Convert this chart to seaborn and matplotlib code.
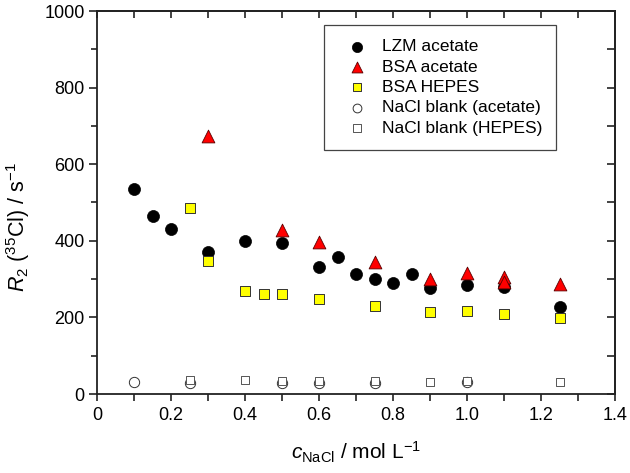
import matplotlib
matplotlib.use("Agg")
import matplotlib.pyplot as plt
import seaborn as sns
import numpy as np
from matplotlib.ticker import MultipleLocator, FuncFormatter

# ---- data ----
lzm_x = [0.1, 0.15, 0.2, 0.3, 0.4, 0.5, 0.6, 0.65, 0.7, 0.75, 0.8, 0.85, 0.9, 1.0, 1.1, 1.25]
lzm_y = [534, 466, 430, 370, 399, 395, 331, 358, 314, 301, 290, 314, 277, 285, 279, 228]

bsa_ac_x = [0.3, 0.5, 0.6, 0.75, 0.9, 1.0, 1.1, 1.1, 1.25]
bsa_ac_y = [674, 428, 396, 344, 300, 315, 305, 293, 286]

bsa_hep_x = [0.25, 0.3, 0.4, 0.45, 0.5, 0.6, 0.75, 0.9, 1.0, 1.1, 1.25]
bsa_hep_y = [485, 348, 269, 260, 262, 248, 231, 213, 216, 210, 199]

blank_ac_x = [0.1, 0.25, 0.5, 0.6, 0.75, 1.0]
blank_ac_y = [31, 29, 29, 30, 30, 31]

blank_hep_x = [0.25, 0.4, 0.5, 0.6, 0.75, 0.9, 1.0, 1.25]
blank_hep_y = [36, 36, 35, 33, 34, 32, 33, 32]

labels = ["LZM acetate", "BSA acetate", "BSA HEPES",
          "NaCl blank (acetate)", "NaCl blank (HEPES)"]

sns.set_theme(style="white")
plt.rcParams["font.family"] = ["Liberation Sans", "DejaVu Sans"]
plt.rcParams["mathtext.fontset"] = "custom"
plt.rcParams["mathtext.rm"] = "Liberation Sans"
plt.rcParams["mathtext.it"] = "Liberation Sans:italic"
for k in ["text.color", "axes.labelcolor", "xtick.color", "ytick.color"]:
    plt.rcParams[k] = "black"

fig = plt.figure(figsize=(6.3, 4.73), dpi=100)
ax = fig.add_axes([97/630, 1-394/473, (615-97)/630, (394-11)/473])

sns.scatterplot(x=lzm_x, y=lzm_y, ax=ax, marker="o", s=75, color="black",
                edgecolor="black", linewidth=0.5, label=labels[0], zorder=3)
sns.scatterplot(x=bsa_ac_x, y=bsa_ac_y, ax=ax, marker="^", s=85, color="#ff0000",
                edgecolor="#5a0000", linewidth=0.6, label=labels[1], zorder=4)
sns.scatterplot(x=bsa_hep_x, y=bsa_hep_y, ax=ax, marker="s", s=48, color="#ffff00",
                edgecolor="#333333", linewidth=0.7, label=labels[2], zorder=5)
sns.scatterplot(x=blank_ac_x, y=blank_ac_y, ax=ax, marker="o", s=55, color="white",
                edgecolor="#333333", linewidth=0.7, label=labels[3], zorder=5)
sns.scatterplot(x=blank_hep_x, y=blank_hep_y, ax=ax, marker="s", s=40, color="white",
                edgecolor="#555555", linewidth=0.7, label=labels[4], zorder=6)

ax.set_xlim(0, 1.4)
ax.set_ylim(0, 1000)

for sp in ax.spines.values():
    sp.set_linewidth(1.3)
    sp.set_color("#222222")

ax.xaxis.set_major_locator(MultipleLocator(0.2))
ax.xaxis.set_minor_locator(MultipleLocator(0.1))
ax.yaxis.set_major_locator(MultipleLocator(200))
ax.yaxis.set_minor_locator(MultipleLocator(100))
ax.xaxis.set_major_formatter(FuncFormatter(lambda v, p: "0" if abs(v) < 1e-9 else f"{v:.1f}"))
ax.tick_params(axis="x", which="both", direction="out", bottom=True, length=5, width=1.2,
               labelsize=13, color="#222222", pad=4)
ax.tick_params(axis="y", which="major", direction="out", left=True, length=6, width=1.2,
               labelsize=13, color="#222222", pad=3)
ax.tick_params(axis="y", which="minor", direction="out", left=True, length=4, width=1.2,
               color="#222222")

top = ax.secondary_xaxis("top")
top.xaxis.set_major_locator(MultipleLocator(0.1))
top.tick_params(direction="in", length=5, width=1.2, labeltop=False, color="#222222")
top.spines["top"].set_linewidth(1.3)
right = ax.secondary_yaxis("right")
right.yaxis.set_major_locator(MultipleLocator(100))
right.tick_params(direction="in", length=6, width=1.2, labelright=False, color="#222222")
right.spines["right"].set_linewidth(1.3)

ax.set_xlabel(r"$\mathit{c}_{\mathrm{NaCl}}$ / mol L$^{-1}$", fontsize=15, labelpad=11.5)
ax.set_ylabel(r"$\mathit{R}_2$ ($^{35}$Cl) / s$^{-1}$", fontsize=15.5, labelpad=9)
ax.yaxis.label.set_y(0.436)

leg = ax.legend(loc="upper left", bbox_to_anchor=(0.438, 0.963), fontsize=12.5,
                frameon=True, fancybox=False, edgecolor="#444444", framealpha=1,
                borderpad=0.8, labelspacing=0.3, handletextpad=0.34,
                borderaxespad=0, handlelength=2.2, markerscale=0.85)
leg.get_frame().set_linewidth(0.9)

fig.savefig("out.png", dpi=100)
